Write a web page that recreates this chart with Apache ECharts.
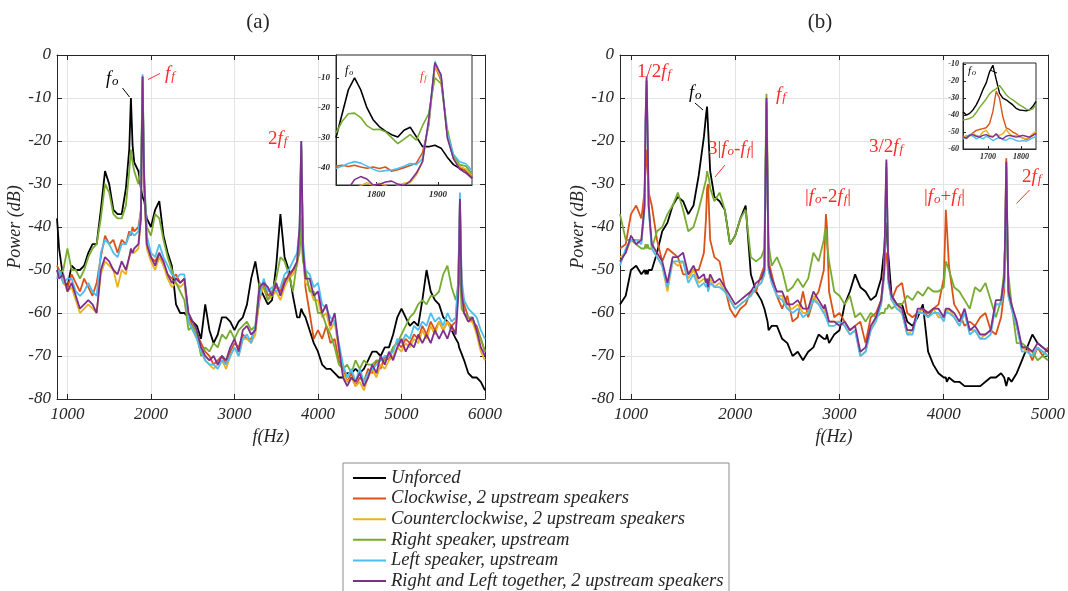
<!DOCTYPE html>
<html lang="en">
<head>
<meta charset="UTF-8">
<title>Power spectra</title>
<style>
  html, body { margin: 0; padding: 0; background: #fff; }
  #chart { width: 1068px; height: 591px; }
</style>
</head>
<body>
<div id="chart"></div>
<script src="https://cdn.jsdelivr.net/npm/echarts@6/dist/echarts.min.js"></script>
<script>
var seriesNames = ['Unforced', 'Clockwise, 2 upstream speakers', 'Counterclockwise, 2 upstream speakers',
  'Right speaker, upstream', 'Left speaker, upstream', 'Right and Left together, 2 upstream speakers'];
var lineColors = ['#000000', '#d95319', '#edb120', '#77ac30', '#4dbeee', '#7e2f8e'];

// panel (a) frequencies, Hz
var freqA = [
  875, 900, 950, 1000, 1050, 1100, 1150, 1200, 1250, 1300, 1350, 1400, 1450, 1500, 1550, 1600, 1650, 1700,
  1740, 1760, 1780, 1800, 1850, 1880, 1890, 1900, 1910, 1920, 1950,
  2000, 2050, 2100, 2150, 2200, 2250, 2300, 2350, 2400, 2450, 2500, 2550, 2600, 2650, 2700, 2750, 2800, 2850, 2900, 2950,
  3000, 3050, 3100, 3150, 3200, 3250, 3300, 3350, 3400, 3450, 3500, 3550, 3600, 3650, 3700, 3750,
  3780, 3790, 3800, 3810, 3820,
  3850, 3900, 3950, 4000, 4050, 4100, 4150, 4200, 4250, 4300, 4350, 4400, 4450, 4500, 4550, 4600, 4650, 4700, 4750, 4800,
  4850, 4900, 4950, 5000, 5050, 5100, 5150, 5200, 5250, 5300, 5350, 5400, 5450, 5500, 5550, 5600, 5650,
  5680, 5690, 5700, 5710, 5720,
  5750, 5800, 5850, 5900, 5950, 6000
];
var unforcedA = [
  -38, -45, -52, -54, -49, -50, -50, -49, -46, -44, -44, -36, -27, -30, -36, -37, -37, -31,
  -22, -10, -21, -25, -27, -31, -32, -33, -33, -34, -38,
  -40, -36, -34, -42, -46, -49, -58, -60, -60, -61, -62, -63, -66, -58, -64, -67, -65, -61, -61, -62,
  -64, -62, -61, -58, -52, -48, -54, -56, -58, -57, -49, -37, -47, -50, -56, -61,
  -61, -60, -59, -59, -60,
  -61, -64, -67, -69, -72, -73, -73, -74, -75, -75, -74, -74, -73, -74, -73, -71, -69, -69, -70, -68,
  -68, -65, -61, -59, -61, -63, -62, -63, -57, -50, -55, -57, -58, -61, -62, -64, -66,
  -67, -68, -68, -69, -69,
  -71, -74, -75, -75, -76, -78
];
var clockwiseA = [
  -49, -50, -53, -54, -51, -53, -55, -52, -54, -56, -53, -47, -42, -44, -43, -46, -43, -44,
  -41, -42, -40, -41, -40, -36, -20, -5, -20, -30, -44,
  -47, -48, -46, -49, -51, -52, -51, -53, -52, -61, -63, -65, -67, -69, -70, -72, -71, -70, -72, -69,
  -67, -68, -65, -66, -66, -64, -57, -53, -56, -55, -54, -55, -52, -52, -50, -49,
  -42, -32, -22, -34, -45,
  -54, -60, -66, -64, -66, -63, -67, -66, -71, -73, -76, -74, -77, -75, -76, -73, -74, -71, -73, -70,
  -71, -68, -67, -68, -66, -67, -65, -66, -63, -65, -62, -64, -62, -64, -62, -63, -62,
  -52, -44, -34, -45, -54,
  -58, -61, -62, -63, -66, -69
];
var counterA = [
  -50, -51, -52, -55, -54, -57, -60, -59, -58, -59, -60, -51, -48, -49, -50, -54, -50, -51,
  -47, -46, -46, -46, -45, -38, -20, -5.5, -20, -30, -45,
  -48, -50, -47, -49, -52, -54, -53, -54, -53, -62, -64, -66, -69, -71, -72, -73, -72, -71, -73, -70,
  -68, -70, -66, -66, -67, -65, -56, -54, -57, -56, -55, -57, -54, -52, -51, -49,
  -41, -31, -21, -33, -46,
  -53, -54, -57, -57, -61, -60, -64, -62, -69, -74, -76, -75, -77, -76, -78, -75, -73, -75, -72, -73,
  -71, -70, -68, -69, -67, -68, -66, -67, -64, -66, -63, -65, -62, -64, -62, -64, -64,
  -54, -45, -34, -45, -55,
  -60, -62, -62, -65, -69, -71
];
var rightA = [
  -50, -51, -50, -45, -50, -50, -52, -50, -47, -45, -44, -38, -30, -32, -37, -38, -38, -35,
  -27, -22, -25, -27, -30, -26, -16, -7, -16, -29, -40,
  -42, -37, -38, -43, -47, -50, -53, -55, -57, -64, -63, -65, -70, -68, -69, -67, -68, -65, -66, -64,
  -66, -64, -63, -62, -64, -63, -53, -54, -57, -55, -52, -47, -48, -51, -55, -48,
  -46, -43, -38, -45, -48,
  -50, -55, -55, -60, -60, -63, -65, -68, -72, -73, -72, -74, -71, -73, -71, -72, -72, -71, -71, -71,
  -70, -68, -67, -65, -63, -61, -60, -58, -57, -58, -56, -56, -55, -51, -49, -54, -57,
  -54, -52, -49, -55, -59,
  -60, -61, -61, -64, -66, -69
];
var leftA = [
  -52, -50, -53, -52, -52, -55, -56, -55, -53, -55, -56, -46, -43, -44, -46, -47, -44, -44,
  -42, -41, -41, -42, -41, -36, -18, -4.5, -18, -30, -42,
  -46, -47, -44, -47, -49, -51, -52, -51, -51, -62, -64, -66, -69, -71, -72, -72, -73, -71, -72, -70,
  -68, -70, -66, -65, -67, -63, -56, -52, -55, -54, -55, -54, -51, -50, -48, -46,
  -40, -30, -20, -32, -43,
  -50, -51, -54, -53, -58, -59, -61, -62, -67, -72, -75, -73, -76, -73, -76, -74, -73, -72, -71, -70,
  -70, -69, -66, -67, -65, -66, -63, -64, -62, -63, -60, -62, -61, -63, -60, -62, -61,
  -52, -42, -32, -43, -52,
  -57, -59, -60, -61, -64, -66
];
var bothA = [
  -50, -52, -51, -55, -53, -56, -59, -58, -57, -58, -60, -50, -47, -48, -50, -51, -48, -50,
  -47, -45, -46, -45, -44, -38, -20, -5, -20, -30, -44,
  -47, -49, -46, -48, -51, -53, -52, -53, -52, -60, -62, -64, -68, -70, -71, -70, -72, -70, -71, -68,
  -66, -69, -64, -63, -65, -64, -54, -53, -54, -56, -53, -56, -53, -51, -50, -48,
  -40, -30, -20, -32, -45,
  -52, -52, -56, -55, -60, -58, -63, -60, -68, -75, -77, -75, -76, -74, -77, -75, -72, -74, -70, -72,
  -69, -71, -68, -66, -69, -67, -68, -65, -67, -65, -67, -64, -66, -64, -66, -63, -65,
  -56, -45, -33.5, -45, -55,
  -60, -62, -61, -64, -68, -70
];

// panel (a) inset, Hz
var freqInA = [1735, 1745, 1755, 1765, 1775, 1785, 1795, 1805, 1815, 1825, 1835, 1845,
  1855, 1865, 1875, 1885, 1895, 1905, 1915, 1925, 1935, 1945, 1955];
var unforcedInA = [-30, -22, -14, -10, -14, -20, -24, -26.3, -27.8, -29, -29.8, -27.5,
  -26.5, -29.7, -33, -33, -32.5, -33.5, -36.5, -39, -40.2, -41, -43.5];
var clockwiseInA = [-39.5, -39.2, -39.6, -39.2, -39.8, -40.2, -39.8, -40.3, -39.8, -41.2, -40.7, -40,
  -39.3, -38.5, -35, -26, -6, -11, -29, -37, -40, -41, -43];
var counterInA = [-48, -48, -48, -47, -46, -45, -46, -45.2, -46, -47, -46, -45.2,
  -45, -42.5, -38, -25, -6, -10, -29, -37, -39.5, -40.5, -42.5];
var rightInA = [-28.5, -24.5, -22, -21.8, -23.3, -26, -27.3, -27.2, -28, -30, -32, -30.5,
  -29, -30.8, -26, -22, -10, -12, -27, -36, -39, -39.5, -42];
var leftInA = [-40.3, -39.5, -38.6, -38, -38.5, -39.5, -40.5, -41.3, -41, -40.8, -40.3, -39.5,
  -38.6, -39, -37, -25, -4.5, -9.5, -28.5, -35.5, -38, -38.7, -41];
var bothInA = [-48, -48, -47, -44, -43, -43.8, -45.8, -45.6, -44.8, -44.5, -45.5, -46,
  -44.5, -41.8, -38, -24, -5, -9, -30, -37, -40.5, -41.8, -43.6];

// panel (b) frequencies, Hz
var freqB = [
  895, 950, 1000, 1050, 1100,
  1130, 1140, 1150, 1160, 1170,
  1200, 1250, 1300, 1350, 1400, 1450, 1500, 1550, 1600, 1650, 1700,
  1720, 1730, 1740, 1750, 1760,
  1800, 1850, 1900, 1950, 2000, 2050, 2100, 2150, 2200, 2250,
  2280, 2290, 2300, 2310, 2320,
  2350, 2400, 2450, 2500, 2550, 2600, 2650, 2700, 2750, 2800, 2850,
  2860, 2870, 2880,
  2900, 2950, 3000, 3050, 3100, 3150, 3200, 3250, 3300, 3350, 3400,
  3430, 3440, 3450, 3460, 3470,
  3500, 3550, 3600, 3650, 3700, 3750, 3800, 3850, 3900, 3950, 4000,
  4010, 4020, 4030,
  4050, 4100, 4150, 4200, 4250, 4300, 4350, 4400, 4450, 4500, 4550,
  4580, 4590, 4600, 4610, 4620,
  4650, 4700, 4750, 4800, 4850, 4900, 4950, 5000
];
var unforcedB = [
  -58, -56, -50, -49, -51,
  -50, -51, -50, -51, -50,
  -50, -46, -41, -39, -35, -33, -34, -37, -35, -28, -19,
  -14, -12, -17, -22, -27,
  -33, -34, -36, -44, -42, -38, -35, -51, -55, -57,
  -59, -60, -61, -62, -64,
  -63, -63, -66, -67, -70, -69, -71, -69, -68, -65, -66,
  -66, -66, -65,
  -67, -65, -64, -58, -55, -51, -54, -55, -57, -56, -52,
  -45, -40, -39, -44, -47,
  -56, -58, -58, -62, -63, -61, -58, -69, -72, -74, -75,
  -75, -75, -76,
  -75, -76, -76, -77, -77, -77, -77, -76, -75, -75, -74,
  -75, -76, -77, -76, -75,
  -76, -74, -71, -68, -65, -67, -68, -69
];
var clockwiseB = [
  -45, -44, -37, -35, -38,
  -32, -26, -22, -27, -32,
  -35, -43, -48, -45, -46, -47, -51, -51, -50, -50, -46,
  -38, -31, -30, -37, -43,
  -47, -48, -54, -59, -61, -59, -58, -55, -55, -51,
  -49, -30, -12, -30, -48,
  -51, -56, -59, -56, -62, -61, -55, -61, -57, -55, -50,
  -43, -37, -40,
  -55, -61, -60, -62, -64, -63, -62, -67, -61, -60, -57,
  -49, -47, -46, -49, -52,
  -57, -54, -53, -60, -61, -60, -59, -61, -59, -58, -52,
  -45, -36, -40,
  -49, -58, -60, -63, -62, -63, -61, -60, -64, -65, -61,
  -55, -40, -24, -42, -54,
  -58, -63, -68, -68, -71, -68, -70, -68
];
var counterB = [
  -47, -46, -43, -43, -43,
  -35, -16, -6, -19, -35,
  -45, -47, -49, -55, -48, -49, -48, -52, -50, -53, -52,
  -53, -52, -55, -53, -52,
  -54, -53, -55, -57, -59, -58, -57, -56, -54, -53,
  -51, -31, -11, -31, -50,
  -53, -56, -56, -59, -59, -58, -60, -60, -56, -58, -60,
  -59, -60, -61,
  -62, -62, -62, -63, -65, -64, -70, -69, -64, -61, -58,
  -51, -36, -25, -38, -53,
  -57, -58, -60, -65, -64, -60, -59, -60, -59, -61, -61,
  -60, -59, -60,
  -59, -61, -63, -60, -64, -64, -66, -65, -64, -58, -58,
  -53, -41, -25.5, -41, -56,
  -59, -63, -68, -69, -70, -68, -69, -70
];
var rightB = [
  -37, -43, -43, -44, -45,
  -45, -44, -45, -44, -45,
  -45, -41, -40, -37, -35, -32, -36, -41, -40, -36, -31,
  -29, -27, -27, -29, -31,
  -34, -32, -36, -44, -42, -38, -36, -47, -48, -47,
  -45, -25, -9, -25, -44,
  -49, -47, -50, -55, -54, -52, -54, -52, -46, -48, -43,
  -41, -40.5, -44,
  -48, -55, -56, -58, -56, -61, -60, -62, -60, -61, -60,
  -60, -59, -59, -59, -58,
  -59, -58, -58, -56, -57, -55, -56, -54, -55, -55, -54,
  -51, -48, -48,
  -50, -54, -55, -57, -59, -54, -55, -53, -57, -61, -57,
  -50, -43, -39, -46, -51,
  -58, -67, -67, -68, -69, -71, -70, -71
];
var leftB = [
  -49, -45, -43, -43, -44,
  -36, -16, -6, -19, -36,
  -45, -47, -49, -54, -48, -48, -48, -53, -51, -54, -53,
  -54, -53, -55, -54, -53,
  -54, -54, -55, -57, -59, -58, -57, -56, -54, -53,
  -51, -31, -11, -31, -50,
  -53, -56, -57, -59, -60, -59, -61, -60, -57, -58, -60,
  -60, -61, -61,
  -63, -63, -62, -63, -65, -64, -70, -69, -64, -62, -58,
  -51, -37, -26, -39, -53,
  -57, -59, -60, -65, -65, -60, -60, -61, -60, -60, -62,
  -61, -60, -60,
  -60, -61, -63, -60, -65, -64, -66, -66, -65, -58, -58,
  -53, -41, -26, -41, -56,
  -59, -63, -69, -69, -70, -68, -69, -70
];
var bothB = [
  -48, -46, -42, -44, -43,
  -35, -15, -5, -18, -35,
  -44, -46, -48, -53, -47, -47, -46, -51, -49, -52, -51,
  -53, -52, -54, -52, -51,
  -53, -52, -54, -56, -58, -57, -56, -55, -53, -52,
  -50, -30, -10, -30, -49,
  -52, -55, -55, -58, -58, -57, -59, -59, -55, -57, -59,
  -58, -59, -60,
  -62, -62, -63, -62, -64, -63, -69, -68, -63, -61, -57,
  -50, -35, -24.3, -38, -52,
  -56, -58, -59, -64, -64, -59, -59, -60, -59, -59, -61,
  -60, -59, -59,
  -59, -60, -62, -59, -64, -63, -65, -65, -64, -57, -57,
  -52, -40, -24.8, -40, -55,
  -58, -62, -68, -68, -69, -67, -68, -69
];

// panel (b) inset, Hz
var freqInB = [1625, 1635, 1645, 1655, 1665, 1675, 1685, 1695, 1705, 1715, 1725, 1735,
  1745, 1755, 1765, 1775, 1785, 1795, 1805, 1815, 1825, 1835, 1845];
var unforcedInB = [-38, -40, -39, -37, -34, -30, -25, -21, -14.5, -10.6, -19, -27,
  -30, -31, -32.5, -34, -36, -37, -37.2, -37.5, -37, -35, -32];
var clockwiseInB = [-52, -54, -52, -50.5, -49, -48.5, -48, -47.5, -45, -38, -26, -30,
  -41, -47.5, -48.5, -50, -51, -52.5, -53.5, -54.5, -53.5, -52, -50.5];
var counterInB = [-53.5, -52, -52.5, -51, -52, -52.5, -50, -49, -52, -52.5, -51.5, -52,
  -51, -48.5, -51, -52.5, -52, -53, -53.5, -54, -53, -51, -49.5];
var rightInB = [-43, -42.5, -42, -41, -38.5, -35.5, -33, -30.5, -27.5, -25.7, -24.5, -22.5,
  -25.2, -28, -29.8, -31, -32.5, -34, -35, -36.5, -37, -36.5, -33.5];
var leftInB = [-54, -53, -51.5, -52.5, -54, -53, -54, -52.5, -53.5, -55, -54, -53,
  -54.5, -55, -53.5, -54, -55, -55.5, -55, -55.5, -54.5, -53.5, -52.5];
var bothInB = [-53, -53.5, -52, -51.5, -52.5, -53, -52, -51.5, -52.5, -53, -51, -53.5,
  -54, -52.5, -52, -52.5, -53, -52.5, -52, -52.5, -53, -52, -51];

var ticksA = [1000, 2000, 3000, 4000, 5000, 6000];
var ticksB = [1000, 2000, 3000, 4000, 5000];

var FONT = "'Liberation Serif', 'DejaVu Serif', serif";
var INK = '#262626';
var RED = '#ff2a2a';

// layout of the four plot boxes
var boxA = { left: 57, top: 55, width: 428, height: 344 };
var boxB = { left: 620, top: 55, width: 428, height: 344 };
var boxInA = { left: 336, top: 55, width: 136, height: 130 };
var boxInB = { left: 963, top: 63, width: 73, height: 86 };

var chart = echarts.init(document.getElementById('chart'));

function plain(v) { return String(v); }

function mainX(grid, min, max, ticks) {
  return {
    gridIndex: grid, type: 'value', min: min, max: max, z: 0,
    axisLine: { show: true, onZero: false, lineStyle: { color: INK, width: 1 } },
    axisTick: { show: true, inside: true, length: 5, customValues: ticks, lineStyle: { color: INK } },
    axisLabel: { customValues: ticks, formatter: plain, margin: 7, color: INK, fontFamily: FONT, fontStyle: 'italic', fontSize: 17 },
    splitLine: { show: true, lineStyle: { color: '#e3e3e3', width: 1 } },
    name: 'f(Hz)', nameLocation: 'middle', nameGap: 28,
    nameTextStyle: { color: INK, fontFamily: FONT, fontStyle: 'italic', fontSize: 18 }
  };
}
function mainY(grid, gap) {
  return {
    gridIndex: grid, type: 'value', min: -80, max: 0, interval: 10, z: 0,
    axisLine: { show: true, onZero: false, lineStyle: { color: INK, width: 1 } },
    axisTick: { show: true, inside: true, length: 5, lineStyle: { color: INK } },
    axisLabel: { margin: 6, color: INK, fontFamily: FONT, fontStyle: 'italic', fontSize: 17 },
    splitLine: { show: true, lineStyle: { color: '#e3e3e3', width: 1 } },
    name: 'Power (dB)', nameLocation: 'middle', nameGap: gap,
    nameTextStyle: { color: INK, fontFamily: FONT, fontStyle: 'italic', fontSize: 18 }
  };
}
function frameAxis(grid, pos, extra) {
  var ax = {
    gridIndex: grid, type: 'value', position: pos, z: 0,
    axisLine: { show: true, onZero: false, lineStyle: { color: INK, width: 1 } },
    axisTick: { show: true, inside: true, length: 5, lineStyle: { color: INK } },
    axisLabel: { show: false }, splitLine: { show: false }
  };
  for (var k in extra) ax[k] = extra[k];
  return ax;
}
function insetAxis(grid, min, max, ticks, size, margin) {
  return {
    gridIndex: grid, type: 'value', min: min, max: max, z: 5,
    axisLine: { show: true, onZero: false, lineStyle: { color: INK, width: 1 } },
    axisTick: { show: true, inside: true, length: 3, customValues: ticks, lineStyle: { color: INK } },
    axisLabel: { customValues: ticks, formatter: plain, margin: margin, color: INK, fontFamily: FONT, fontStyle: 'italic',
      fontWeight: 'bold', fontSize: size },
    splitLine: { show: false }
  };
}

var seriesList = [];
function addSeries(freqs, values, k, axis, width, z) {
  seriesList.push({
    type: 'line', name: seriesNames[k], xAxisIndex: axis, yAxisIndex: axis,
    data: freqs.map(function (f, i) { return [f, values[i]]; }),
    showSymbol: false, symbol: 'none', z: z, silent: true,
    lineStyle: { color: lineColors[k], width: width },
    itemStyle: { color: lineColors[k] }
  });
}
[unforcedA, clockwiseA, counterA, rightA, leftA, bothA].forEach(function (v, k) { addSeries(freqA, v, k, 0, 1.8, 2); });
[unforcedB, clockwiseB, counterB, rightB, leftB, bothB].forEach(function (v, k) { addSeries(freqB, v, k, 1, 1.8, 2); });
[unforcedInA, clockwiseInA, counterInA, rightInA, leftInA, bothInA].forEach(function (v, k) { addSeries(freqInA, v, k, 2, 1.6, 6); });
[unforcedInB, clockwiseInB, counterInB, rightInB, leftInB, bothInB].forEach(function (v, k) { addSeries(freqInB, v, k, 3, 1.4, 6); });

// rich text for the peak labels
function rich(size, color) {
  var sub = Math.round(size * 0.7);
  return {
    i: { fontFamily: FONT, fontStyle: 'italic', fontSize: size, fill: color, lineHeight: size, verticalAlign: 'top' },
    r: { fontFamily: FONT, fontSize: size, fill: color, lineHeight: size, verticalAlign: 'top' },
    s: { fontFamily: FONT, fontStyle: 'italic', fontSize: sub, fill: color, lineHeight: sub,
      padding: [Math.round(size * 0.45), 0, 0, 1], verticalAlign: 'bottom' }
  };
}
function tag(x, y, text, size, color) {
  return { type: 'text', x: x, y: y, z: 10, silent: true,
    style: { text: text, rich: rich(size, color), fill: color, textVerticalAlign: 'middle' } };
}
function stroke(x1, y1, x2, y2, color) {
  return { type: 'line', z: 10, silent: true, shape: { x1: x1, y1: y1, x2: x2, y2: y2 },
    style: { stroke: color, lineWidth: 1 } };
}
function panelBox(b) {
  return { type: 'rect', z: 1, silent: true, shape: { x: b.left, y: b.top, width: b.width, height: b.height },
    style: { fill: '#fff', stroke: INK, lineWidth: 1 } };
}

var graphics = [
  panelBox(boxInA), panelBox(boxInB),
  { type: 'text', x: 258, y: 22, z: 10, style: { text: '(a)', fill: INK, font: '21px ' + FONT, textAlign: 'center', textVerticalAlign: 'middle' } },
  { type: 'text', x: 820, y: 22, z: 10, style: { text: '(b)', fill: INK, font: '21px ' + FONT, textAlign: 'center', textVerticalAlign: 'middle' } },
  { type: 'rect', z: 1, silent: true, shape: { x: 343, y: 463, width: 386, height: 140 },
    style: { fill: '#fff', stroke: '#8c8c8c', lineWidth: 1 } },

  tag(106, 79, '{i|f}{s|o}', 18, '#000'),
  stroke(122.5, 88, 129.5, 97, '#000'),
  tag(165, 74, '{i|f}{s|f}', 19, RED),
  stroke(148, 79.5, 160, 73.5, RED),
  tag(268, 139, '{r|2}{i|f}{s|f}', 19, RED),
  tag(345, 71, '{i|f}{s|o}', 12, '#000'),
  tag(420, 77, '{i|f}{s|f}', 12, RED),

  tag(637, 72, '{r|1/2}{i|f}{s|f}', 19, RED),
  tag(689, 93, '{i|f}{s|o}', 18, '#000'),
  stroke(695, 103, 703, 110, '#000'),
  tag(776, 95, '{i|f}{s|f}', 19, RED),
  tag(708, 149, '{r|3|}{i|f}{s|o}{r|-}{i|f}{s|f}{r||}', 19, RED),
  stroke(715, 177, 725, 165, RED),
  tag(805, 197, '{r||}{i|f}{s|o}{r|-2}{i|f}{s|f}{r||}', 19, RED),
  tag(869, 147, '{r|3/2}{i|f}{s|f}', 19, RED),
  tag(924, 197, '{r||}{i|f}{s|o}{r|+}{i|f}{s|f}{r||}', 19, RED),
  tag(1022, 177, '{r|2}{i|f}{s|f}', 19, RED),
  stroke(1016.5, 203.5, 1029.5, 190, RED),
  tag(968, 71, '{i|f}{s|o}', 11, '#000'),
  stroke(990, 70, 997, 73, '#000')
];

var option = {
  animation: false,
  backgroundColor: '#fff',
  grid: [
    { left: boxA.left, top: boxA.top, width: boxA.width, height: boxA.height, outerBoundsMode: 'none' },
    { left: boxB.left, top: boxB.top, width: boxB.width, height: boxB.height, outerBoundsMode: 'none' },
    { left: boxInA.left, top: boxInA.top, width: boxInA.width, height: boxInA.height, outerBoundsMode: 'none' },
    { left: boxInB.left, top: boxInB.top, width: boxInB.width, height: boxInB.height, outerBoundsMode: 'none' }
  ],
  xAxis: [
    mainX(0, 875, 6000, ticksA),
    mainX(1, 895, 5000, ticksB),
    insetAxis(2, 1735, 1955, [1800, 1900], 9, 5),
    insetAxis(3, 1625, 1845, [1700, 1800], 8, 4),
    frameAxis(0, 'top', { min: 875, max: 6000, axisTick: { show: true, inside: true, length: 5, customValues: ticksA, lineStyle: { color: INK } } }),
    frameAxis(1, 'top', { min: 895, max: 5000, axisTick: { show: true, inside: true, length: 5, customValues: ticksB, lineStyle: { color: INK } } })
  ],
  yAxis: [
    mainY(0, 27),
    mainY(1, 26),
    insetAxis(2, -45.8, -2.4, [-40, -30, -20, -10], 9, 6),
    insetAxis(3, -60, -9.3, [-60, -50, -40, -30, -20, -10], 8, 4),
    frameAxis(0, 'right', { min: -80, max: 0, interval: 10 }),
    frameAxis(1, 'right', { min: -80, max: 0, interval: 10 })
  ],
  legend: {
    data: seriesNames,
    orient: 'vertical',
    left: 348, top: 463, width: 380, height: 200,
    icon: 'rect',
    itemWidth: 33, itemHeight: 2, itemGap: 0.6,
    selectedMode: false,
    textStyle: { color: INK, fontFamily: FONT, fontStyle: 'italic', fontSize: 18.6, lineHeight: 20 },
    z: 10
  },
  graphic: { elements: graphics },
  series: seriesList
};
chart.setOption(option);
</script>
</body>
</html>
